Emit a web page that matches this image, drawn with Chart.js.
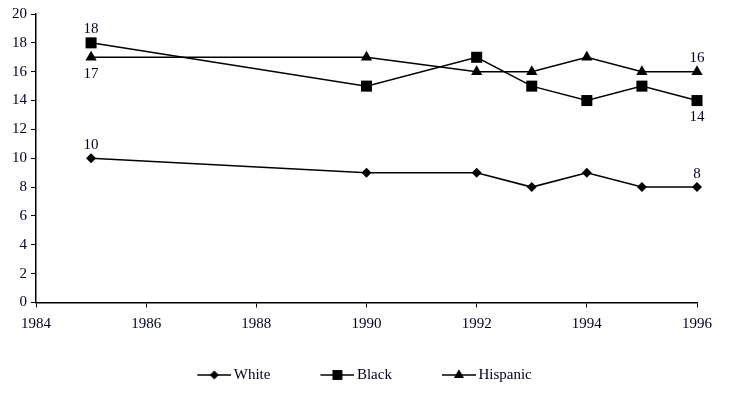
<!DOCTYPE html>
<html>
<head>
<meta charset="utf-8">
<script src="https://cdn.jsdelivr.net/npm/chart.js@4/dist/chart.umd.min.js"></script>
<style>
  html, body { margin: 0; padding: 0; background: #fff; }
  #wrap { width: 734px; height: 396px; }
</style>
</head>
<body>
<div id="wrap"><canvas id="chart"></canvas></div>
<script>
const years = [1985, 1990, 1992, 1993, 1994, 1995, 1996]
const white = [10, 9, 9, 8, 9, 8, 8]
const black = [18, 15, 17, 15, 14, 15, 14]
const hispanic = [17, 17, 16, 16, 17, 16, 16]

// which points carry a value label, and on which side
const pointLabels = [
  { ds: 0, i: 0, pos: 'above' },
  { ds: 0, i: 6, pos: 'above' },
  { ds: 1, i: 0, pos: 'above' },
  { ds: 1, i: 6, pos: 'below' },
  { ds: 2, i: 0, pos: 'below' },
  { ds: 2, i: 6, pos: 'above' }
]

const FONT = '"Liberation Serif", "Times New Roman", serif'
const TEXT = '#000022'
const LEG_PAD = 26
const LEAD = 24     // empty room before each legend swatch
const BOX_W = LEAD + 34 - 5

function pairs(ys) {
  return years.map((x, i) => ({ x, y: ys[i] }))
}

// legend swatch: a short line with the marker in the middle
function swatch(style, r) {
  const c = document.createElement('canvas')
  c.width = BOX_W + 10
  c.height = 16
  const g = c.getContext('2d')
  const x0 = LEAD + 5
  const x1 = c.width
  g.strokeStyle = '#000'
  g.fillStyle = '#000'
  g.lineWidth = 1.5
  g.beginPath()
  g.moveTo(x0, 8)
  g.lineTo(x1, 8)
  g.stroke()
  Chart.helpers.drawPoint(g, { pointStyle: style, radius: r, borderWidth: 0 }, (x0 + x1) / 2, 8)
  return c
}

const labelPlugin = {
  id: 'valueLabels',
  afterDatasetsDraw(chart) {
    const ctx = chart.ctx
    ctx.save()
    ctx.font = '15px ' + FONT
    ctx.fillStyle = TEXT
    ctx.textAlign = 'center'
    pointLabels.forEach(p => {
      const pt = chart.getDatasetMeta(p.ds).data[p.i]
      const v = chart.data.datasets[p.ds].data[p.i].y
      if (p.pos === 'above') {
        ctx.textBaseline = 'bottom'
        ctx.fillText(v, pt.x, pt.y - 6)
      } else {
        ctx.textBaseline = 'top'
        ctx.fillText(v, pt.x, pt.y + 9)
      }
    })
    ctx.restore()
  }
}

const styles = [
  { label: 'White', data: white, pointStyle: 'rectRot', radius: 5 },
  { label: 'Black', data: black, pointStyle: 'rect', radius: 7.8 },
  { label: 'Hispanic', data: hispanic, pointStyle: 'triangle', radius: 6.5 }
]

new Chart(document.getElementById('chart'), {
  type: 'line',
  data: {
    datasets: styles.map(s => ({
      label: s.label,
      data: pairs(s.data),
      borderColor: '#000',
      backgroundColor: '#000',
      borderWidth: 1.5,
      pointStyle: s.pointStyle,
      pointRadius: s.radius,
      pointBorderWidth: 0,
      pointBackgroundColor: '#000',
      tension: 0,
      clip: false
    }))
  },
  options: {
    responsive: true,
    maintainAspectRatio: false,
    animation: false,
    layout: { padding: { left: 8, right: 37, top: 14, bottom: 3.5 } },
    scales: {
      x: {
        type: 'linear',
        min: 1984,
        max: 1996,
        ticks: {
          stepSize: 2,
          color: TEXT,
          font: { family: FONT, size: 15 },
          padding: 8,
          maxRotation: 0,
          callback: v => String(v)
        },
        grid: { drawOnChartArea: false, drawTicks: true, tickLength: 5, color: '#000' },
        border: { display: true, color: '#000', width: 1.5 }
      },
      y: {
        min: 0,
        max: 20,
        ticks: {
          stepSize: 2,
          color: TEXT,
          font: { family: FONT, size: 15 },
          padding: 4
        },
        grid: { drawOnChartArea: false, drawTicks: true, tickLength: 5, color: '#000' },
        border: { display: true, color: '#000', width: 1.5 }
      }
    },
    plugins: {
      tooltip: { enabled: false },
      legend: {
        position: 'bottom',
        labels: {
          color: TEXT,
          font: { family: FONT, size: 15 },
          padding: LEG_PAD,
          usePointStyle: true,
          pointStyleWidth: BOX_W,
          generateLabels(chart) {
            return chart.data.datasets.map((ds, i) => ({
              text: ds.label,
              datasetIndex: i,
              pointStyle: swatch(styles[i].pointStyle, styles[i].radius * 0.9),
              fillStyle: '#000',
              strokeStyle: '#000',
              lineWidth: 0,
              fontColor: TEXT,
              hidden: false
            }))
          }
        }
      }
    }
  },
  plugins: [labelPlugin]
})
</script>
</body>
</html>
